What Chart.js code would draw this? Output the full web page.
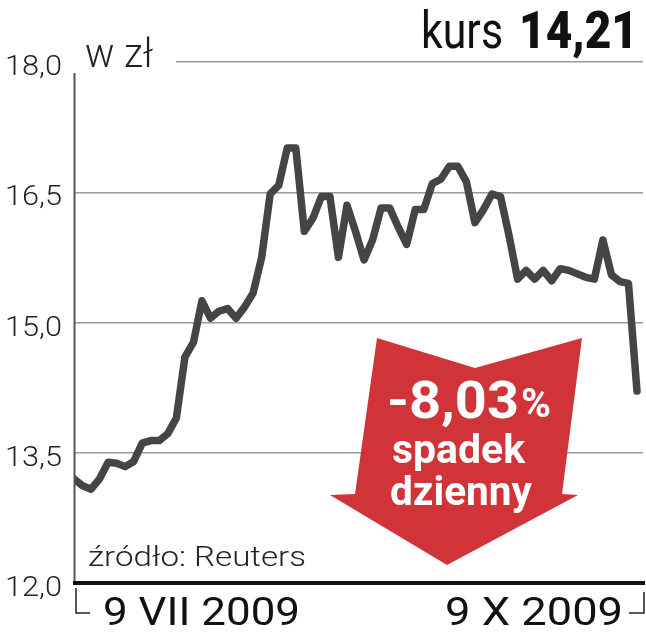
<!DOCTYPE html>
<html>
<head>
<meta charset="utf-8">
<script src="https://cdn.jsdelivr.net/npm/chart.js@4"></script>
<style>
html, body { margin: 0; padding: 0; background: #fff; }
</style>
</head>
<body>
<canvas id="chart" width="646" height="640"></canvas>
<script>
// daily closing price, 9 VII 2009 .. 9 X 2009 (zł)
const closes = [
    13.20, 13.12, 13.08, 13.20, 13.39, 13.38, 13.34, 13.40, 13.61, 13.64,
    13.64, 13.72, 13.90, 14.60, 14.77, 15.25, 15.05, 15.13, 15.16, 15.05,
    15.18, 15.34, 15.75, 16.48, 16.58, 17.01, 17.01, 16.05, 16.20, 16.45,
    16.45, 15.75, 16.35, 16.05, 15.72, 15.95, 16.32, 16.32, 16.10, 15.90,
    16.30, 16.30, 16.60, 16.65, 16.80, 16.80, 16.62, 16.15, 16.30, 16.48,
    16.45, 16.00, 15.50, 15.60, 15.50, 15.60, 15.48, 15.62, 15.60, 15.56,
    15.52, 15.50, 15.95, 15.55, 15.47, 15.45, 14.21
];
const yTicks = [12, 13.5, 15, 16.5, 18];
const dateLabels = ['9 VII 2009', '9 X 2009'];
const unitLabel = 'w zł';
const sourceLabel = 'źródło: Reuters';
const lastPrice = '14,21';
const dailyChange = '-8,03';

const FAM = "'Liberation Sans Narrow', Roboto, 'Liberation Sans', sans-serif";
const BOLD = "Roboto, 'Liberation Sans', sans-serif";

// draws text squeezed to a given width (condensed look)
function fitText(ctx, txt, x, y, w, size, weight, family, align, color) {
    ctx.save();
    ctx.font = weight + ' ' + size + 'px ' + family;
    let m = ctx.measureText(txt).width;
    let x0 = align === 'right' ? x - w : (align === 'center' ? x - w / 2 : x);
    ctx.fillStyle = color || '#1a1a1a';
    ctx.textAlign = 'left';
    ctx.textBaseline = 'alphabetic';
    ctx.translate(x0, y);
    ctx.scale(w / m, 1);
    ctx.fillText(txt, 0, 0);
    ctx.restore();
}

const decor = {
    id: 'decor',
    afterDraw(chart) {
        const ctx = chart.ctx;
        const y = chart.scales.y;
        const x = chart.scales.x;
        const area = chart.chartArea;
        const top = y.getPixelForValue(18);
        const bottom = y.getPixelForValue(12);
        const x0 = x.getPixelForValue(0);
        const xN = x.getPixelForValue(closes.length - 1);

        ctx.save();
        // gap in top gridline for unit label
        ctx.fillStyle = '#fff';
        ctx.fillRect(area.left - 2, top - 4, 178 - area.left, 8);

        // left axis
        ctx.strokeStyle = '#555';
        ctx.lineWidth = 2;
        ctx.beginPath();
        ctx.moveTo(area.left + 0.5, top + 11);
        ctx.lineTo(area.left + 0.5, bottom);
        ctx.stroke();

        // bottom axis
        ctx.strokeStyle = '#111';
        ctx.lineWidth = 4;
        ctx.beginPath();
        ctx.moveTo(area.left - 1, bottom);
        ctx.lineTo(area.right + 2, bottom);
        ctx.stroke();

        // date brackets
        ctx.lineWidth = 1.5;
        ctx.strokeStyle = '#222';
        ctx.beginPath();
        ctx.moveTo(x0 + 2, bottom + 5);
        ctx.lineTo(x0 + 2, bottom + 30);
        ctx.lineTo(x0 + 16, bottom + 30);
        ctx.moveTo(area.right + 1, bottom + 9);
        ctx.lineTo(area.right + 1, bottom + 30);
        ctx.lineTo(area.right - 14, bottom + 30);
        ctx.stroke();
        ctx.restore();

        // y tick labels
        yTicks.forEach(v => {
            fitText(ctx, v.toFixed(1).replace('.', ','), 62, y.getPixelForValue(v) + 13, 57, 28, '300', FAM, 'right', '#222');
        });

        // texts
        fitText(ctx, unitLabel, 85, top + 5, 68, 40, '300', FAM, 'left', '#222');
        fitText(ctx, 'kurs', 421, 48, 82, 52, '400', FAM, 'left', '#111');
        fitText(ctx, lastPrice, 519, 48, 119, 51, '900', BOLD, 'left', '#111');
        fitText(ctx, sourceLabel, 88, 566, 218, 28, '300', FAM, 'left', '#222');
        fitText(ctx, dateLabels[0], x0 + 29, bottom + 42, 197, 39, '400', FAM, 'left', '#111');
        fitText(ctx, dateLabels[1], xN - 14, bottom + 42, 178, 39, '400', FAM, 'right', '#111');

        // red arrow
        ctx.save();
        ctx.fillStyle = '#d13438';
        ctx.beginPath();
        [[377, 338], [475, 368], [582, 338], [562, 494], [578, 495],
         [447, 565], [330, 495], [355, 494]].forEach((p, i) => {
            if (i === 0) ctx.moveTo(p[0], p[1]); else ctx.lineTo(p[0], p[1]);
        });
        ctx.closePath();
        ctx.fill();
        ctx.restore();

        fitText(ctx, dailyChange, 387, 418, 132, 52, '700', BOLD, 'left', '#fff');
        fitText(ctx, '%', 521, 417, 30, 40, '700', BOLD, 'left', '#fff');
        fitText(ctx, 'spadek', 392, 463, 133, 40, '700', BOLD, 'left', '#fff');
        fitText(ctx, 'dzienny', 390, 505, 142, 40, '700', BOLD, 'left', '#fff');
    }
};

new Chart(document.getElementById('chart'), {
    type: 'line',
    data: {
        datasets: [{
            data: closes.map((v, i) => ({x: i, y: v})),
            borderColor: '#454545',
            borderWidth: 7.5,
            borderJoinStyle: 'round',
            borderCapStyle: 'round',
            pointRadius: 0,
            tension: 0,
            fill: false
        }]
    },
    options: {
        responsive: false,
        animation: false,
        events: [],
        layout: { padding: { left: 74, top: 62, right: 3, bottom: 57 } },
        plugins: { legend: { display: false }, tooltip: { enabled: false } },
        scales: {
            x: {
                type: 'linear',
                min: 0,
                max: (closes.length - 1) * 569 / 563,
                display: false
            },
            y: {
                min: 12,
                max: 18,
                afterFit: s => { s.width = 0; },
                afterBuildTicks: s => { s.ticks = yTicks.map(v => ({value: v})); },
                ticks: { display: false },
                border: { display: false },
                grid: {
                    drawTicks: false,
                    lineWidth: 1.5,
                    color: c => (c.tick && c.tick.value === 12) ? 'rgba(0,0,0,0)' : '#9a9a9a'
                }
            }
        }
    },
    plugins: [decor]
});
</script>
</body>
</html>
